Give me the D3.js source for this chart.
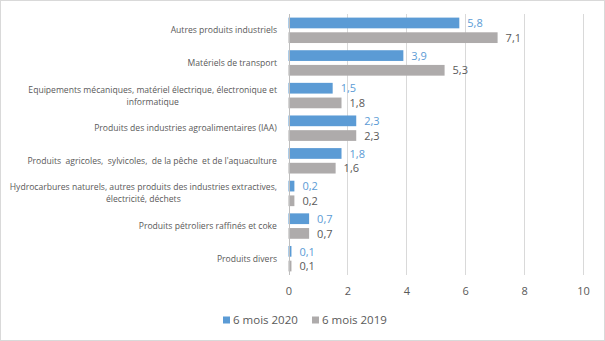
<!DOCTYPE html>
<html>
<head>
<meta charset="utf-8">
<script src="https://cdn.jsdelivr.net/npm/d3@7"></script>
<style>
  body { margin: 0; background: #fff; }
  text { font-family: "Open Sans", "Noto Sans", sans-serif; }
  .cat { white-space: pre; }
</style>
</head>
<body>
<div id="wrapper"></div>
<script>
// data
const categories = [
  ["Autres produits industriels"],
  ["Matériels de transport"],
  ["Equipements mécaniques, matériel électrique, électronique et", "informatique"],
  ["Produits des industries agroalimentaires (IAA)"],
  ["Produits  agricoles,  sylvicoles,  de la pêche  et de l'aquaculture"],
  ["Hydrocarbures naturels, autres produits des industries extractives,", "électricité, déchets"],
  ["Produits pétroliers raffinés et coke"],
  ["Produits divers"]
];
const series = ["6 mois 2020", "6 mois 2019"];
const values2020 = [5.8, 3.9, 1.5, 2.3, 1.8, 0.2, 0.7, 0.1];
const values2019 = [7.1, 5.3, 1.8, 2.3, 1.6, 0.2, 0.7, 0.1];
const xTicks = [0, 2, 4, 6, 8, 10];

const barColors = ["#5B9BD5", "#AEABAB"];
const labelColors = ["#5B9BD5", "#595959"];

const dimensions = {
  width: 605,
  height: 341,
  plot: {left: 288.5, right: 583, top: 14, bottom: 275}
};

const wrapper = d3.select("#wrapper").append("svg")
  .attr("width", dimensions.width)
  .attr("height", dimensions.height);

// chart border
wrapper.append("rect")
  .attr("x", 0.5).attr("y", 0.5)
  .attr("width", dimensions.width - 1).attr("height", dimensions.height - 1)
  .attr("fill", "#fff").attr("stroke", "#D9D9D9");

const xScale = d3.scaleLinear().domain([0, 10])
  .range([dimensions.plot.left, dimensions.plot.right]);
const yScale = d3.scaleBand().domain(d3.range(categories.length))
  .range([dimensions.plot.top, dimensions.plot.bottom]);
const subScale = d3.scaleBand().domain(series)
  .range([3.6, yScale.bandwidth() - 3.6]).paddingInner(0.27);

// gridlines
wrapper.append("g").selectAll("line")
  .data(xTicks.slice(1))
  .enter().append("line")
  .attr("x1", d => Math.round(xScale(d)) + 0.5)
  .attr("x2", d => Math.round(xScale(d)) + 0.5)
  .attr("y1", dimensions.plot.top)
  .attr("y2", dimensions.plot.bottom)
  .attr("stroke", "#D9D9D9");

const rows = categories.map((c, i) => ({i, vals: [values2020[i], values2019[i]]}));

// bars
const groups = wrapper.append("g").selectAll("g")
  .data(rows)
  .enter().append("g")
  .attr("transform", d => `translate(0, ${yScale(d.i)})`);

series.forEach((s, k) => {
  groups.append("rect")
    .attr("x", xScale(0))
    .attr("y", subScale(s))
    .attr("width", d => xScale(d.vals[k]) - xScale(0))
    .attr("height", subScale.bandwidth())
    .attr("fill", barColors[k]);

  groups.append("text")
    .attr("x", d => xScale(d.vals[k]) + 8)
    .attr("y", subScale(s) + subScale.bandwidth() / 2)
    .attr("dy", "0.38em")
    .attr("font-size", 11)
    .attr("fill", labelColors[k])
    .text(d => d3.format(".1f")(d.vals[k]).replace(".", ","));
});

// y axis line
wrapper.append("line")
  .attr("x1", Math.round(xScale(0)) + 0.5).attr("x2", Math.round(xScale(0)) + 0.5)
  .attr("y1", dimensions.plot.top).attr("y2", dimensions.plot.bottom)
  .attr("stroke", "#BFBFBF");

// category labels
const catLabels = wrapper.append("g").selectAll("text")
  .data(categories)
  .enter().append("text")
  .attr("class", "cat")
  .attr("font-size", 8.6)
  .attr("fill", "#595959")
  .attr("text-anchor", "middle");

catLabels.each(function (lines, i) {
  const t = d3.select(this);
  const cy = yScale(i) + yScale.bandwidth() / 2;
  lines.forEach((ln, j) => {
    t.append("tspan")
      .attr("x", 0)
      .attr("y", cy + (j - (lines.length - 1) / 2) * 12)
      .attr("dy", "0.35em")
      .text(ln);
  });
  const w = this.getBBox().width;
  t.selectAll("tspan").attr("x", 277 - w / 2);
});

// x axis labels
const xAxis = d3.axisBottom(xScale).tickValues(xTicks).tickSize(0).tickPadding(0);
const ax = wrapper.append("g")
  .attr("transform", `translate(0, ${dimensions.plot.bottom + 12})`)
  .call(xAxis);
ax.select(".domain").remove();
ax.selectAll("text")
  .attr("font-family", "'Open Sans', sans-serif")
  .attr("font-size", 11)
  .attr("fill", "#595959");

// legend
const legendX = [223, 312];
const legend = wrapper.append("g").selectAll("g")
  .data(series)
  .enter().append("g")
  .attr("transform", (d, i) => `translate(${legendX[i]}, 320)`);
legend.append("rect")
  .attr("x", 0).attr("y", -3.5)
  .attr("width", 7).attr("height", 7)
  .attr("fill", (d, i) => barColors[i]);
legend.append("text")
  .attr("x", 10).attr("dy", "0.35em")
  .attr("font-size", 11.5)
  .attr("fill", "#595959")
  .text(d => d);
</script>
</body>
</html>
